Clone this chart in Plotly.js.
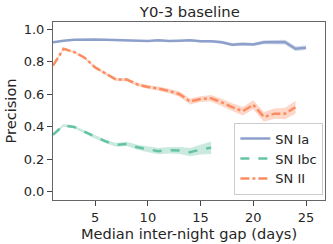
<!DOCTYPE html>
<html><head><meta charset="utf-8">
<script src="https://cdn.plot.ly/plotly-3.0.1.min.js"></script>
<style>html,body{margin:0;padding:0;background:#fff;}</style>
</head><body><div id="chart" style="width:333px;height:244px;"></div>
<script>
const gapDays = [1,2,3,4,5,6,7,8,9,10,11,12,13,14,15,16,17,18,19,20,21,22,23,24,25];
const seriesNames = ["SN Ia","SN Ibc","SN II"];
const precIa  = [0.92,0.93,0.935,0.937,0.937,0.935,0.933,0.93,0.93,0.928,0.932,0.928,0.93,0.933,0.926,0.926,0.92,0.905,0.91,0.907,0.92,0.922,0.921,0.88,0.887];
const errIa   = [0.004,0.004,0.004,0.004,0.004,0.004,0.005,0.005,0.005,0.005,0.005,0.006,0.006,0.006,0.008,0.008,0.009,0.01,0.01,0.01,0.012,0.013,0.014,0.015,0.015];
const precIbc = [0.35,0.408,0.398,0.367,0.335,0.309,0.288,0.294,0.273,0.259,0.249,0.255,0.253,0.243,0.259,0.27];
const errIbc  = [0.008,0.008,0.008,0.009,0.01,0.011,0.012,0.013,0.015,0.017,0.019,0.02,0.022,0.025,0.03,0.038];
const precII  = [0.776,0.88,0.86,0.825,0.765,0.725,0.69,0.69,0.66,0.645,0.635,0.62,0.6,0.555,0.57,0.575,0.55,0.52,0.495,0.535,0.46,0.48,0.48,0.52];
const errII   = [0.006,0.007,0.007,0.008,0.008,0.009,0.01,0.01,0.011,0.012,0.013,0.014,0.016,0.018,0.018,0.02,0.022,0.024,0.026,0.028,0.03,0.032,0.035,0.04];
const colors = ["#8da0cb","#66c2a5","#fc8d62"];
const dashes = ["solid","dash","dashdot"];
const yTicks = [0.0,0.2,0.4,0.6,0.8,1.0];
const xTicks = [5,10,15,20,25];

const all = [[precIa,errIa],[precIbc,errIbc],[precII,errII]];
const traces = [];
all.forEach(([v,e],i)=>{
  const xs = gapDays.slice(0,v.length);
  const up = v.map((a,j)=>a+e[j]);
  const lo = v.map((a,j)=>a-e[j]);
  traces.push({x: xs.concat(xs.slice().reverse()), y: up.concat(lo.slice().reverse()),
    fill:'toself', fillcolor: colors[i], opacity:0.35, line:{width:0}, mode:'lines',
    hoverinfo:'skip', showlegend:false, type:'scatter'});
});
all.forEach(([v,e],i)=>{
  traces.push({x: gapDays.slice(0,v.length), y: v, mode:'lines', name: seriesNames[i],
    line:{color:colors[i], width:2.5, dash:dashes[i]}, type:'scatter'});
});

const F = "DejaVu Sans";
const axFont = {family:F, size:13, color:"#262626"};
const layout = {
  width:333, height:244,
  margin:{l:53, r:8, t:22, b:44, pad:0},
  paper_bgcolor:"#fff", plot_bgcolor:"#fff",
  font:{family:F, color:"#262626"},
  title:{text:"Y0-3 baseline", font:{family:F, size:14.8, color:"#262626"}, x:0.57, xanchor:'center', y:0.95, yanchor:'middle'},
  xaxis:{range:[1,26.8], tickvals:xTicks, ticktext:xTicks.map(String), showgrid:false, zeroline:false,
    showline:true, mirror:true, linecolor:"#666", linewidth:1, ticks:"outside", ticklen:5, tickcolor:"#444",
    tickfont:axFont, title:{text:"Median inter-night gap (days)", font:{family:F, size:14.6, color:"#262626"}, standoff:1}},
  yaxis:{range:[-0.052,1.045], tickvals:yTicks, ticktext:yTicks.map(t=>t.toFixed(1)), showgrid:false, zeroline:false,
    showline:true, mirror:true, linecolor:"#666", linewidth:1, ticks:"outside", ticklen:5, tickcolor:"#444",
    tickfont:axFont, title:{text:"Precision", font:{family:F, size:14.6, color:"#262626"}, standoff:3}},
  legend:{x:0.994, xanchor:'right', y:0.03, yanchor:'bottom', bgcolor:"rgba(255,255,255,0.8)",
    bordercolor:"#ccc", borderwidth:1, font:{family:F, size:13, color:"#262626"},
    tracegroupgap:0, itemwidth:30},
  showlegend:true
};
Plotly.newPlot('chart', traces, layout, {displayModeBar:false, staticPlot:true});
</script></body></html>
